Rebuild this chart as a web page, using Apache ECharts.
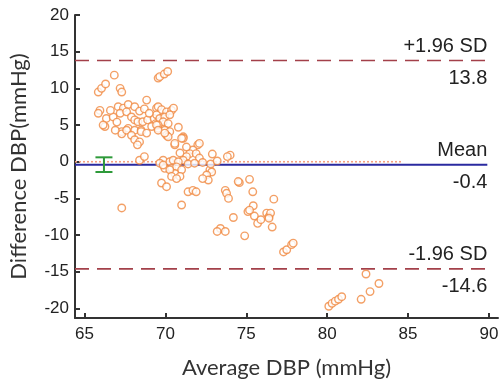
<!DOCTYPE html>
<html>
<head>
<meta charset="utf-8">
<script src="https://cdn.jsdelivr.net/npm/echarts@6/dist/echarts.min.js"></script>
<style>html,body{margin:0;padding:0;background:#fff}#c{width:504px;height:387px}</style>
</head>
<body>
<div id="c"></div>
<script>
// ---- data ----
const xTicks = [65, 70, 75, 80, 85, 90];
const yTicks = [-20, -15, -10, -5, 0, 5, 10, 15, 20];
const meanDiff = -0.4;
const upperLoA = 13.8;
const lowerLoA = -14.6;
const meanCI = [66.2, 0.6, -1.4]; // x, upper, lower
const zeroLineEnd = 84.6;
const avgDBP = [
66.84,65.85,66.05,66.3,67.2,67.3,68.84,65.95,65.85,67.08,67.4,67.7,68.1,67.2,67.6,66.35,66.77,66.26,67.9,68.1,
68.3,68.6,68.9,69.3,69.4,67.3,67.7,68.1,68.5,69.15,69.55,69.55,69.45,69.65,69.93,70.14,69.55,69.76,70.07,70.38,
70.5,69.45,69.65,69.96,70.27,69.86,69.55,70.17,69.96,70.27,70.07,70.17,71.1,70.58,72.0,72.1,71.7,71.5,71.9,71.3,
71.1,72.1,72.9,69.86,70.27,70.48,70.8,69.65,69.96,70.38,70.69,71.0,70.58,70.9,72.75,72.86,72.55,72.65,72.3,69.76,
70.07,71.4,71.7,71.9,73.7,74.0,73.83,74.57,75.2,75.4,73.78,73.9,76.7,75.43,75.1,75.5,76.26,76.4,74.2,71.0,
74.5,73.4,73.2,73.7,74.9,75.2,75.7,75.9,76.5,76.4,76.6,77.3,77.5,77.8,77.9,80.1,80.3,80.5,80.7,80.9,
82.4,82.1,82.65,83.2,67.3,66.15,67.3,67.6,67.9,68.5,68.84,68.1,68.4,68.27,69.45,69.55,69.96,70.58,71.1,68.4,
68.7,71.0,69.86,70.27,70.38,70.69,66.6,67.0,68.4,68.7,66.9,69.0,70.8,71.3,70.9,71.4,71.8,72.3,72.8,73.2
];
const diffDBP = [
11.8,9.5,10.0,10.6,10.0,9.5,8.4,7.0,6.6,7.5,7.3,7.8,7.5,6.6,6.8,5.9,6.1,4.8,6.1,5.7,
5.45,5.45,5.7,5.9,5.2,4.1,4.55,4.3,4.3,4.8,4.55,11.4,7.3,11.6,11.95,12.3,7.5,7.1,6.8,7.0,
7.3,6.4,5.9,6.1,6.4,5.45,5.0,5.2,4.3,4.1,3.6,3.4,3.4,2.3,2.3,2.5,1.6,1.1,1.1,0.7,
0.2,0.5,1.05,0.2,0.0,0.2,0.0,-0.2,-0.9,-0.9,-0.7,-1.1,-1.6,-2.0,-1.1,-1.4,-1.8,-2.5,-2.3,-2.9,
-3.4,-4.1,-3.9,-4.1,-3.9,0.9,0.7,-2.85,-2.4,-4.1,-4.3,-5.0,-5.1,-6.0,-6.8,-7.4,-7.0,-7.5,-7.6,-5.9,
-2.7,-9.1,-9.5,-9.5,-10.1,-6.6,-8.4,-7.9,-7.0,-7.7,-8.9,-12.3,-12.0,-11.3,-11.1,-19.7,-19.3,-19.0,-18.75,-18.4,
-15.3,-18.75,-17.7,-16.6,-6.3,5.0,3.8,4.3,3.6,4.1,3.9,3.0,2.7,2.3,5.0,4.3,3.9,2.5,3.2,0.2,
0.7,3.2,-0.45,-1.1,-2.0,-2.3,7.0,5.4,6.9,7.2,4.3,6.6,4.7,2.0,1.2,-0.3,-0.2,-0.1,-0.3,0.1
];
const upperLabel = '+1.96 SD';
const lowerLabel = '-1.96 SD';
const meanLabel = 'Mean';
const xName = 'Average DBP (mmHg)';
const yName = 'Difference DBP(mmHg)';

// ---- chart ----
const xMin = 64.41, xMax = 90.56, yMin = -21.3, yMax = 20;
const lineEnd = 89.9;
const points = avgDBP.map((x, i) => [x, diffDBP[i]]);
const tickFont = {fontFamily: 'Liberation Sans', fontSize: 17, color: '#222'};
const annFont = {fontFamily: 'Liberation Sans', fontSize: 20, color: '#222'};

function refLine(y, end, color, type, width, z) {
  return {
    type: 'line', data: [[xMin, y], [end, y]], symbol: 'none', silent: true, z: z,
    lineStyle: {color: color, type: type, width: width}
  };
}
function lbl(y, text, pos, dist) {
  return [
    {coord: [xMin, y], label: Object.assign({show: true, formatter: text, position: pos, distance: [0, dist]}, annFont)},
    {coord: [lineEnd, y]}
  ];
}

const chart = echarts.init(document.getElementById('c'), null, {renderer: 'canvas'});
chart.setOption({
  animation: false,
  grid: {left: 75, right: 6, top: 15, bottom: 69},
  xAxis: {
    type: 'value', min: xMin, max: xMax,
    name: xName, nameLocation: 'middle', nameGap: 39,
    nameTextStyle: {fontFamily: 'Lato', fontSize: 22, color: '#333'},
    splitLine: {show: false},
    axisLine: {onZero: false, lineStyle: {color: '#333', width: 2}},
    axisTick: {inside: true, length: 5, lineStyle: {color: '#333', width: 2}, customValues: xTicks},
    axisLabel: Object.assign({customValues: xTicks, margin: 8}, tickFont)
  },
  yAxis: {
    type: 'value', min: yMin, max: yMax,
    name: yName, nameLocation: 'middle', nameGap: 45,
    nameTextStyle: {fontFamily: 'Lato', fontSize: 22, color: '#333'},
    splitLine: {show: false},
    axisLine: {show: true, onZero: false, lineStyle: {color: '#333', width: 2}},
    axisTick: {show: true, inside: true, length: 5, lineStyle: {color: '#333', width: 2}, customValues: yTicks},
    axisLabel: Object.assign({customValues: yTicks, margin: 6}, tickFont)
  },
  series: [
    refLine(0, zeroLineEnd, '#F4A080', [2, 2], 1.6, 1),
    refLine(upperLoA, lineEnd, '#A3404A', [14, 8], 1.6, 2),
    refLine(lowerLoA, lineEnd, '#A3404A', [14, 8], 1.6, 2),
    refLine(meanDiff, lineEnd, '#2A2AA0', 'solid', 2, 2),
    {
      type: 'scatter', data: points, symbol: 'circle', symbolSize: 7.5,
      itemStyle: {color: '#fff', borderColor: '#F08840', borderWidth: 1.4},
      z: 3,
      markLine: {
        silent: true, symbol: 'none', animation: false,
        lineStyle: {color: 'rgba(0,0,0,0)', width: 1, type: 'solid'},
        data: [
          lbl(upperLoA, upperLabel, 'insideEndTop', 4),
          lbl(upperLoA, upperLoA.toFixed(1), 'insideEndBottom', 8),
          lbl(meanDiff, meanLabel, 'insideEndTop', 4),
          lbl(meanDiff, meanDiff.toFixed(1), 'insideEndBottom', 8),
          lbl(lowerLoA, lowerLabel, 'insideEndTop', 4),
          lbl(lowerLoA, lowerLoA.toFixed(1), 'insideEndBottom', 8)
        ]
      }
    },
    {
      type: 'custom', data: [meanCI], z: 4,
      renderItem: function (params, api) {
        const top = api.coord([api.value(0), api.value(1)]);
        const bot = api.coord([api.value(0), api.value(2)]);
        const hw = 8.5;
        const st = {stroke: '#2E9A3A', lineWidth: 2};
        return {type: 'group', children: [
          {type: 'line', shape: {x1: top[0], y1: top[1], x2: bot[0], y2: bot[1]}, style: st},
          {type: 'line', shape: {x1: top[0] - hw, y1: top[1], x2: top[0] + hw, y2: top[1]}, style: st},
          {type: 'line', shape: {x1: bot[0] - hw, y1: bot[1], x2: bot[0] + hw, y2: bot[1]}, style: st}
        ]};
      }
    }
  ]
});
</script>
</body>
</html>
